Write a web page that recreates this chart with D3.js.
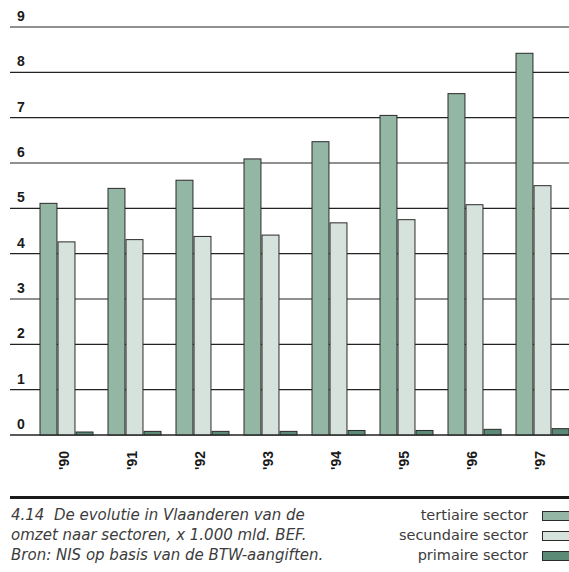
<!DOCTYPE html>
<html><head><meta charset="utf-8">
<script src="https://cdn.jsdelivr.net/npm/d3@7"></script>
<style>
html,body{margin:0;padding:0;background:#fff;}
svg{display:block;}
</style></head>
<body>
<svg id="chart" width="569" height="572"></svg>
<script>
const years = ["'90","'91","'92","'93","'94","'95","'96","'97"];
const seriesNames = ["tertiaire sector","secundaire sector","primaire sector"];
const tertiaire = [5.11, 5.44, 5.62, 6.09, 6.47, 7.05, 7.53, 8.42];
const secundaire = [4.26, 4.31, 4.38, 4.41, 4.68, 4.75, 5.08, 5.50];
const primaire = [0.066, 0.08, 0.08, 0.08, 0.10, 0.10, 0.125, 0.14];
const yTicks = [0,1,2,3,4,5,6,7,8,9];
const captionLines = ["4.14  De evolutie in Vlaanderen van de","omzet naar sectoren, x 1.000 mld. BEF.","Bron: NIS op basis van de BTW-aangiften."];

const colors = ["#94b6a5","#d6e2dc","#5b8a76"];
const values = [tertiaire, secundaire, primaire];

const svg = d3.select("#chart");
const y = d3.scaleLinear().domain([0,9]).range([435,27]);
const x0 = d3.scaleBand().domain(years).range([40,569]).paddingInner(15/68).paddingOuter(0);
const x1 = d3.scaleBand().domain(d3.range(3)).range([0,x0.bandwidth()]).paddingInner(0.06);

// gridlines
svg.append("g").selectAll("line").data(yTicks).join("line")
  .attr("x1",10).attr("x2",569)
  .attr("y1",d=>y(d)).attr("y2",d=>y(d))
  .attr("stroke","#222").attr("stroke-width",1.1);

// y labels
svg.append("g").selectAll("text").data(yTicks).join("text")
  .attr("x",17).attr("y",d=>y(d)-6)
  .attr("font-family","Liberation Sans, Arial, sans-serif")
  .attr("font-weight","bold").attr("font-size","14px").attr("fill","#1a1a1a")
  .text(d=>d);

// bars
const groups = svg.append("g").selectAll("g").data(years).join("g")
  .attr("transform",d=>`translate(${x0(d)},0)`);
groups.selectAll("rect").data((d,i)=>values.map((v,s)=>({s, v:v[i]}))).join("rect")
  .attr("x",d=>x1(d.s)).attr("width",x1.bandwidth())
  .attr("y",d=>y(d.v)).attr("height",d=>y(0)-y(d.v))
  .attr("fill",d=>colors[d.s]).attr("stroke","#2a2a2a").attr("stroke-width",1);

// baseline
svg.append("line").attr("x1",10).attr("x2",569).attr("y1",y(0)).attr("y2",y(0))
  .attr("stroke","#222").attr("stroke-width",1.2);

// x labels
svg.append("g").selectAll("text").data(years).join("text")
  .attr("transform",d=>`translate(${x0(d)+x0.bandwidth()/2-3},451) rotate(-90)`)
  .attr("text-anchor","end").attr("dy","0.36em")
  .attr("font-family","Liberation Sans, Arial, sans-serif")
  .attr("font-weight","bold").attr("font-size","14px").attr("fill","#1a1a1a")
  .text(d=>d);

// rule
svg.append("rect").attr("x",10).attr("y",496).attr("width",559).attr("height",3).attr("fill","#1a1a1a");

// caption
svg.append("g").selectAll("text").data(captionLines).join("text")
  .attr("x",11).attr("y",(d,i)=>520+i*20)
  .attr("font-family","DejaVu Sans, sans-serif").attr("font-style","italic")
  .attr("font-size","15px").attr("fill","#3c3c3c")
  .attr("xml:space","preserve").style("white-space","pre")
  .text(d=>d);

// legend
const leg = svg.append("g").selectAll("g").data(seriesNames).join("g")
  .attr("transform",(d,i)=>`translate(0,${520+i*20})`);
leg.append("text").attr("x",528).attr("y",0).attr("text-anchor","end")
  .attr("font-family","DejaVu Sans, sans-serif").attr("font-size","14.5px").attr("fill","#3c3c3c")
  .text(d=>d);
leg.append("rect").attr("x",542.5).attr("y",-8.5).attr("width",27).attr("height",9)
  .attr("fill",(d,i)=>colors[i]).attr("stroke","#2a2a2a").attr("stroke-width",1);
</script>
</body></html>
